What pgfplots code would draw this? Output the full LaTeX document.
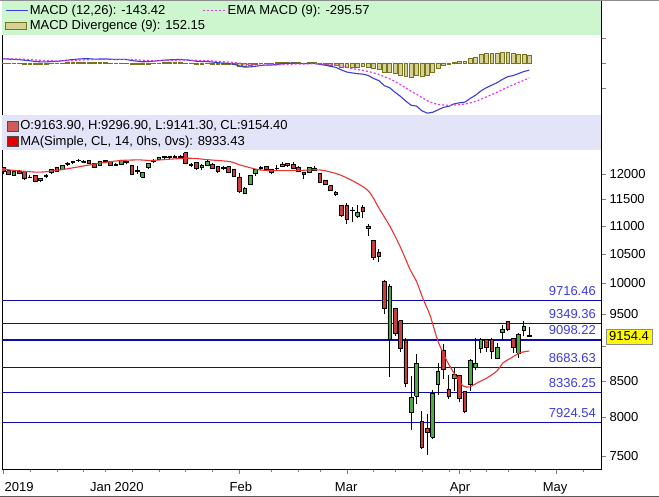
\documentclass[border=0pt]{standalone}
\usepackage{fontspec}
\setmainfont{Liberation Sans}
\usepackage{pgfplots}
\usepackage{pgfplotstable}
\pgfplotsset{compat=1.18}

\definecolor{candleup}{RGB}{76,170,76}
\definecolor{candledown}{RGB}{200,62,62}
\definecolor{maline}{RGB}{236,50,50}
\definecolor{fibline}{RGB}{10,10,175}
\definecolor{fibtext}{RGB}{60,60,225}
\definecolor{macdblue}{RGB}{60,60,215}
\definecolor{emamag}{RGB}{225,60,225}
\definecolor{histfill}{RGB}{214,210,150}
\definecolor{histdraw}{RGB}{120,116,30}
\definecolor{bandgreen}{RGB}{206,246,206}
\definecolor{bandlav}{RGB}{228,228,248}
\definecolor{boxyellow}{RGB}{255,250,0}

\newcommand{\ff}{\fontsize{13}{15}\selectfont}

\pgfplotsset{
  linelegend/.style={legend image code/.code={\draw[##1] (0pt,0pt) -- (22pt,0pt);}},
  histlegend/.style={legend image code/.code={\draw[fill=histfill, draw=histdraw, line width=0.8pt] (0pt,-3.5pt) rectangle (21pt,3.5pt);}},
  candlelegend/.style={legend image code/.code={\draw[fill=candledown!85!white, draw=black!70, line width=0.6pt] (0pt,-5pt) rectangle (11pt,5pt);}},
  malegend/.style={legend image code/.code={\draw[fill=red!90!black, draw=black!70, line width=0.6pt] (0pt,-5pt) rectangle (11pt,5pt);}},
}

% Nifty 50 daily candles (index 0 = 2 Dec 2019)
\pgfplotstableread{
i O H L C
0 12137 12137 11996 12048
1 12067 12069 11978 11994
2 11970 12055 11969 12043
3 12052 12082 11999 12018
4 12048 12058 11888 11922
5 11940 11981 11924 11937
6 11966 11968 11833 11857
7 11868 11923 11832 11910
8 11944 11990 11923 11972
9 12027 12099 11999 12087
10 12131 12134 12046 12053
11 12083 12182 12070 12165
12 12197 12237 12163 12222
13 12236 12268 12191 12260
14 12273 12294 12243 12272
15 12235 12287 12213 12262
16 12269 12283 12202 12214
17 12211 12221 12119 12127
18 12172 12258 12158 12246
19 12275 12286 12213 12255
20 12247 12248 12151 12168
21 12202 12223 12165 12182
22 12198 12290 12195 12283
23 12261 12265 12191 12226
24 12170 12179 11975 11993
25 12080 12153 12006 12053
26 11939 12045 11929 12025
27 12123 12225 12093 12216
28 12271 12311 12213 12257
29 12297 12337 12285 12330
30 12333 12374 12308 12362
31 12350 12354 12278 12343
32 12347 12389 12315 12355
33 12328 12385 12321 12352
34 12431 12431 12193 12224
35 12195 12230 12129 12170
36 12239 12239 12087 12107
37 12124 12190 12086 12180
38 12175 12273 12171 12248
39 12197 12216 12107 12119
40 12148 12164 12024 12055
41 12114 12164 12072 12130
42 12147 12150 12010 12035
43 12100 12104 11945 11962
44 11939 12018 11633 11662
45 11627 11750 11614 11708
46 11797 11986 11783 11979
47 12005 12098 11953 12089
48 12120 12160 12070 12137
49 12151 12154 12073 12098
50 12102 12103 11990 12031
51 12109 12172 12074 12108
52 12151 12232 12144 12201
53 12219 12225 12139 12174
54 12191 12246 12091 12113
55 12131 12160 12031 12046
56 12029 12031 11908 11993
57 12038 12135 12013 12126
58 12119 12153 12051 12081
59 12013 12013 11813 11829
60 11880 11883 11779 11797
61 11769 11774 11659 11679
62 11605 11663 11576 11633
63 11387 11387 11175 11202
64 11388 11433 11036 11132
65 11288 11357 11082 11303
66 11181 11400 11155 11251
67 11358 11391 11145 11270
68 10956 11035 10827 10989
69 10743 10751 10403 10451
70 10532 10588 10360 10458
71 10039 10050 9508 9590
72 9107 9990 8555 9955
73 9587 9602 9161 9197
74 9398 9404 8916 8967
75 9089 9127 8408 8469
76 8063 8575 7832 8264
77 8286 8884 8177 8745
78 7945 8083 7583 7610
79 7848 8036 7511 7801
80 7735 8376 7715 8318
81 8451 8749 8304 8641
82 8949 9038 8522 8660
83 8386 8576 8244 8281
84 8530 8678 8358 8598
85 8584 8588 8198 8254
86 8356 8357 8055 8084
87 8446 8819 8361 8792
88 8688 9131 8653 8748
89 8973 9128 8904 9112
90 9104 9112 8912 8994
91 9103 9131 8821 8925
92 8830 9053 8822 8992
93 9212 9324 9091 9267
94 9390 9390 9230 9262
95 9119 9121 8909 8981
96 8901 9208 8822 9187
97 9254 9390 9160 9314
98 9163.9 9296.9 9141.3 9154.4
}\ohlc

% 14-day simple moving average
\pgfplotstableread{
i MA
0 12094
3.17 12060
6.89 12034
10.61 12080
14.34 12147
18.06 12216
21.79 12270
25.51 12284
27.37 12270
31.10 12298
34.82 12318
38.55 12284
42.27 12248
44.13 12181
47.86 12080
51.58 12066
55.31 12070
59.03 12080
62.76 11980
66.48 11783
68.34 11628
70.20 11302
72.07 10993
73.93 10637
75.79 10237
77.04 10023
78.21 9746
79.52 9481
81.01 9080
82.68 8784
84.54 8541
85.66 8428
86.96 8414
88.27 8470
90.13 8541
91.99 8641
93.11 8757
94.41 8820
96.28 8905
98 8933.43
}\madata

% MACD (12,26), signal EMA (9), divergence
\pgfplotstableread{
i M S H
0 85.6 85.1 0.5
1 76.8 83.4 -6.6
2 73.0 81.3 -8.3
3 67.2 78.5 -11.3
4 54.3 73.7 -19.4
5 44.7 67.9 -23.2
6 30.3 60.4 -30.1
7 22.8 52.9 -30.1
8 21.7 46.7 -25.0
9 29.7 43.3 -13.6
10 32.9 41.2 -8.3
11 44.0 41.8 2.2
12 56.8 44.8 12.0
13 69.2 49.7 19.5
14 79.0 55.6 23.4
15 85.0 61.5 23.5
16 84.9 66.2 18.7
17 77.0 68.4 8.6
18 79.4 70.6 8.8
19 81.1 72.7 8.4
20 74.6 73.1 1.5
21 69.8 72.4 -2.6
22 73.2 72.6 0.6
23 70.5 72.2 -1.7
24 49.0 67.6 -18.6
25 36.4 61.4 -25.0
26 23.8 53.9 -30.1
27 28.9 48.9 -20.0
28 35.9 46.3 -10.4
29 46.8 46.4 0.4
30 57.3 48.6 8.7
31 63.4 51.6 11.8
32 68.4 55.0 13.4
33 71.3 58.3 13.0
34 62.5 59.1 3.4
35 50.6 57.4 -6.8
36 35.7 53.1 -17.4
37 29.4 48.4 -19.0
38 29.6 44.6 -15.0
39 19.1 39.5 -20.4
40 5.6 32.7 -27.1
41 0.9 26.3 -25.4
42 -10.4 19.0 -29.4
43 -24.9 10.2 -35.1
44 -59.9 -3.8 -56.1
45 -83.0 -19.6 -63.4
46 -78.5 -31.4 -47.1
47 -65.3 -38.2 -27.1
48 -50.4 -40.6 -9.8
49 -41.3 -40.7 -0.6
50 -39.0 -40.4 1.4
51 -30.6 -38.4 7.8
52 -16.3 -34.0 17.7
53 -7.1 -28.6 21.5
54 -4.6 -23.8 19.2
55 -7.9 -20.6 12.7
56 -14.7 -19.4 4.7
57 -9.3 -17.4 8.1
58 -8.5 -15.6 7.1
59 -27.9 -18.1 -9.8
60 -45.2 -23.5 -21.7
61 -67.7 -32.3 -35.4
62 -88.2 -43.5 -44.7
63 -137.6 -62.3 -75.3
64 -180.4 -85.9 -94.5
65 -198.2 -108.4 -89.8
66 -214.0 -129.5 -84.5
67 -222.4 -148.1 -74.3
68 -248.9 -168.3 -80.6
69 -309.7 -196.6 -113.1
70 -353.2 -227.9 -125.3
71 -452.5 -272.8 -179.7
72 -496.0 -317.4 -178.6
73 -584.8 -370.9 -213.9
74 -666.1 -429.9 -236.2
75 -761.9 -496.3 -265.6
76 -844.6 -566.0 -278.6
77 -861.5 -625.1 -236.4
78 -955.4 -691.2 -264.2
79 -1002.8 -753.5 -249.3
80 -987.3 -800.3 -187.0
81 -938.2 -827.9 -110.3
82 -887.5 -839.8 -47.7
83 -867.9 -845.4 -22.5
84 -817.4 -839.8 22.4
85 -795.9 -831.0 35.1
86 -783.5 -821.5 38.0
87 -708.4 -798.9 90.5
88 -645.0 -768.1 123.1
89 -559.0 -726.3 167.3
90 -494.7 -680.0 185.3
91 -444.2 -632.8 188.6
92 -394.2 -585.1 190.9
93 -328.6 -533.8 205.2
94 -273.8 -481.8 208.0
95 -250.2 -435.5 185.3
96 -212.4 -390.9 178.5
97 -170.3 -346.8 176.5
98 -143.42 -295.57 152.15
}\macd

\begin{document}
\begin{tikzpicture}
\fill[white] (0pt,0pt) rectangle (659pt,497pt);
\useasboundingbox (0pt,0pt) rectangle (659pt,497pt);

% ---------------- MACD panel ----------------
\begin{axis}[
  at={(2pt,382pt)}, anchor=south west, scale only axis,
  width=599pt, height=115pt,
  xmin=-0.186, xmax=111.36, ymin=-1040, ymax=1260,
  separate axis lines, x axis line style={draw=none},
  xtick=\empty, ytick={-500,0,500}, yticklabels={,,},
  ytick pos=right, tick align=outside, major tick length=5pt,
  clip mode=individual,
  legend columns=2, legend cell align=left,
  legend style={at={(rel axis cs:0,1)}, anchor=north west, xshift=3pt, yshift=-3.5pt,
    draw=none, fill=none, inner sep=0pt, row sep=1pt, font=\ff,
    nodes={inner sep=1.5pt}, /tikz/column 2/.style={column sep=36pt}},
]
\fill[bandgreen] (rel axis cs:0,0.6957) rectangle (rel axis cs:1,1);
\addplot[ybar, bar width=3.8pt, fill=histfill, draw=histdraw, line width=0.5pt, forget plot] table[x=i,y=H]{\macd};
\addplot[macdblue, line width=1.1pt, linelegend] table[x=i,y=M]{\macd};
\addlegendentry{MACD (12,26): -143.42}
\addplot[emamag, line width=1.2pt, dash pattern=on 2pt off 2pt, linelegend] table[x=i,y=S]{\macd};
\addlegendentry{EMA MACD (9): -295.57}
\addlegendimage{histlegend}
\addlegendentry{\rlap{MACD Divergence (9): 152.15}}
\end{axis}

% ---------------- Price panel ----------------
\begin{axis}[
  at={(2pt,28pt)}, anchor=south west, scale only axis,
  width=599pt, height=354pt,
  xmin=-0.186, xmax=111.36,
  ymode=log, ymin=7339.4, ymax=13240,
  xtick={0,44,64,85,103}, xticklabels={,,,,},
  minor xtick={5,10,15,19,24,29,34,39,50,55,59,69,73,78,83,87,90,94,99,108},
  extra x ticks={3,21.2,44.3,63.9,85.1,102.8},
  extra x tick labels={2019,Jan 2020,Feb,Mar,Apr,May},
  extra x tick style={major tick length=0pt},
  x tick label style={yshift=-10pt},
  xtick pos=bottom, ytick pos=right, yticklabel pos=right,
  tick align=outside, major tick length=5pt, minor tick length=3pt,
  yminorticks=false,
  ytick={7500,8000,8500,9000,9500,10000,10500,11000,11500,12000},
  yticklabels={7500,8000,8500,,9500,10000,10500,11000,11500,12000},
  tick label style={font=\ff},
  /pgf/number format/assume math mode=true,
  clip mode=individual,
  legend cell align=left,
  legend style={at={(rel axis cs:0,1)}, anchor=north west, xshift=5pt, yshift=-4pt,
    draw=none, fill=none, inner sep=0pt, row sep=1.5pt, font=\ff,
    nodes={inner sep=1.5pt}},
]
\fill[bandlav] (rel axis cs:0,0.9011) rectangle (rel axis cs:1,1);
% Fibonacci levels
\addplot[fibline, line width=1.05pt, forget plot] coordinates {(-1,9716.46) (112,9716.46)};
\addplot[fibline, line width=1.05pt, forget plot] coordinates {(-1,9349.36) (112,9349.36)};
\addplot[fibline, line width=1.05pt, forget plot] coordinates {(-1,9098.22) (112,9098.22)};
\addplot[fibline, line width=1.05pt, forget plot] coordinates {(-1,8683.63) (112,8683.63)};
\addplot[fibline, line width=1.05pt, forget plot] coordinates {(-1,8336.25) (112,8336.25)};
\addplot[fibline, line width=1.05pt, forget plot] coordinates {(-1,7924.54) (112,7924.54)};
% candles
\pgfplotsforeachungrouped \k in {0,...,98}{%
  \pgfplotstablegetelem{\k}{O}\of\ohlc \let\vO\pgfplotsretval
  \pgfplotstablegetelem{\k}{H}\of\ohlc \let\vH\pgfplotsretval
  \pgfplotstablegetelem{\k}{L}\of\ohlc \let\vL\pgfplotsretval
  \pgfplotstablegetelem{\k}{C}\of\ohlc \let\vC\pgfplotsretval
  \pgfmathsetmacro\xa{\k-0.34}%
  \pgfmathsetmacro\xb{\k+0.34}%
  \pgfmathparse{\vC>=\vO ? 1 : 0}%
  \ifdim\pgfmathresult pt>0.5pt \def\bc{candleup}\else\def\bc{candledown}\fi
  \edef\cmd{%
    \noexpand\addplot[forget plot, black, line width=0.9pt] coordinates {(\k,\vL) (\k,\vH)};%
    \noexpand\addplot[forget plot, draw=black, line width=0.6pt, fill=\bc] coordinates {(\xa,\vO) (\xb,\vO) (\xb,\vC) (\xa,\vC) (\xa,\vO)};%
  }\cmd
}
\addlegendimage{candlelegend}
\addlegendentry{O:9163.90, H:9296.90, L:9141.30, CL:9154.40}
\addplot[maline, line width=1.1pt, smooth, malegend] table[x=i,y=MA]{\madata};
\addlegendentry{MA(Simple, CL, 14, 0hs, 0vs): 8933.43}
% level labels
\node[anchor=base east, text=fibtext, font=\ff, inner sep=0pt, yshift=5pt] at (axis cs:110.43,9716.46) {9716.46};
\node[anchor=base east, text=fibtext, font=\ff, inner sep=0pt, yshift=5pt] at (axis cs:110.43,9349.36) {9349.36};
\node[anchor=base east, text=fibtext, font=\ff, inner sep=0pt, yshift=5pt] at (axis cs:110.43,9098.22) {9098.22};
\node[anchor=base east, text=fibtext, font=\ff, inner sep=0pt, yshift=5pt] at (axis cs:110.43,8683.63) {8683.63};
\node[anchor=base east, text=fibtext, font=\ff, inner sep=0pt, yshift=5pt] at (axis cs:110.43,8336.25) {8336.25};
\node[anchor=base east, text=fibtext, font=\ff, inner sep=0pt, yshift=5pt] at (axis cs:110.43,7924.54) {7924.54};
\node[anchor=west, fill=boxyellow, draw=black!45, font=\ff, inner xsep=3pt, inner ysep=2.5pt, minimum height=15pt, xshift=5pt] at (axis cs:111.36,9154.4) {9154.4};
\end{axis}

\draw[black!45] (0pt,496.5pt) -- (659pt,496.5pt);
\draw[black!65] (0pt,0.6pt) -- (659pt,0.6pt);
\end{tikzpicture}
\end{document}
